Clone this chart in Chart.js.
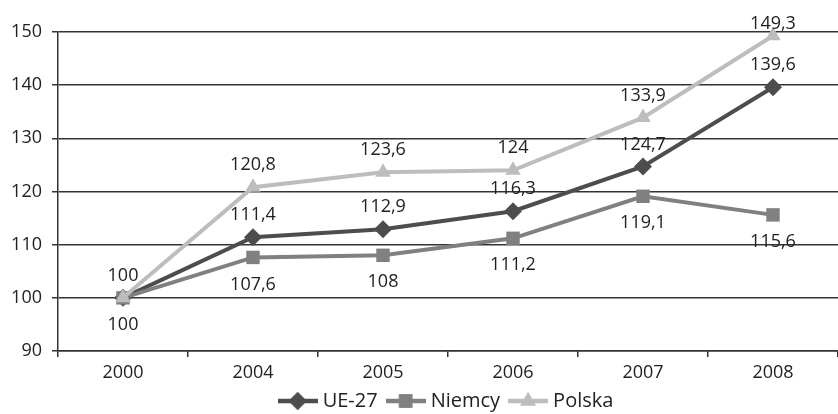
<!DOCTYPE html>
<html>
<head>
<meta charset="utf-8">
<script src="https://cdn.jsdelivr.net/npm/chart.js@4.4.1/dist/chart.umd.min.js"></script>
<style>
html,body{margin:0;padding:0;background:#fff;overflow:hidden;}
#wrap{width:838px;height:414px;position:relative;}
</style>
</head>
<body>
<div id="wrap"><canvas id="c"></canvas></div>
<script>
const categories = ['2000', '2004', '2005', '2006', '2007', '2008'];
const ue27 = [100, 111.4, 112.9, 116.3, 124.7, 139.6];
const niemcy = [100, 107.6, 108, 111.2, 119.1, 115.6];
const polska = [100, 120.8, 123.6, 124, 133.9, 149.3];
const seriesNames = ['UE-27', 'Niemcy', 'Polska'];
const yTicks = [90, 100, 110, 120, 130, 140, 150];

const FONT = '"Open Sans", "Noto Sans", sans-serif';
const FS = 18;
const LFS = 20;
const colors = ['#4d4d4d', '#808080', '#bdbdbd'];
const styles = ['rectRot', 'rect', 'triangle'];
const radii = [9, 9.5, 9];
const labelPos = ['above', 'below', 'above'];
const skipFirst = [false, false, true];

function legendIcon(color, style, r) {
  const cv = document.createElement('canvas');
  cv.width = 40; cv.height = 22;
  const ctx = cv.getContext('2d');
  ctx.strokeStyle = color; ctx.lineWidth = 4.5;
  ctx.beginPath(); ctx.moveTo(0, 11); ctx.lineTo(40, 11); ctx.stroke();
  ctx.fillStyle = color;
  Chart.helpers.drawPoint(ctx, {pointStyle: style, radius: r, borderWidth: 0}, 20, 11);
  ctx.fill();
  return cv;
}

const labelPlugin = {
  id: 'valueLabels',
  afterLayout(chart) {
    if (chart.legend) {
      chart.legend.top -= 6;
      chart.legend.bottom -= 6;
    }
  },
  afterDatasetsDraw(chart) {
    const ctx = chart.ctx;
    ctx.save();
    ctx.font = FS + 'px ' + FONT;
    ctx.fillStyle = '#222';
    ctx.textAlign = 'center';
    ctx.textBaseline = 'middle';
    chart.data.datasets.forEach((ds, i) => {
      const meta = chart.getDatasetMeta(i);
      meta.data.forEach((pt, j) => {
        if (skipFirst[i] && j === 0) return;
        const v = ds.data[j];
        const txt = String(v).replace('.', ',');
        const dy = labelPos[i] === 'above' ? -22 : 27;
        const y = Math.max(pt.y + dy, 24);
        ctx.fillText(txt, pt.x, y);
      });
    });
    ctx.restore();
  }
};

const seriesData = [ue27, niemcy, polska];
const datasets = seriesData.map((d, i) => ({
  label: seriesNames[i],
  data: d,
  borderColor: colors[i],
  backgroundColor: colors[i],
  borderWidth: 4,
  pointStyle: styles[i],
  pointRadius: radii[i],
  pointHoverRadius: radii[i],
  pointBorderWidth: 0,
  pointBackgroundColor: colors[i],
  tension: 0,
  clip: false,
  order: 3 - i
}));

new Chart(document.getElementById('c'), {
  type: 'line',
  data: { labels: categories, datasets: datasets },
  options: {
    responsive: true,
    maintainAspectRatio: false,
    animation: false,
    layout: { autoPadding: false, padding: { top: 32, right: 0, left: 0, bottom: -13 } },
    plugins: {
      tooltip: { enabled: false },
      legend: {
        position: 'bottom',
        fullSize: false,
        labels: {
          color: '#222',
          font: { family: FONT, size: LFS },
          usePointStyle: true,
          pointStyleWidth: 30,
          boxHeight: LFS,
          padding: 13,
          generateLabels(chart) {
            return chart.data.datasets.map((ds, i) => ({
              text: ds.label,
              pointStyle: legendIcon(colors[i], styles[i], radii[i]),
              fillStyle: colors[i],
              strokeStyle: colors[i],
              lineWidth: 0,
              hidden: false,
              datasetIndex: i,
              fontColor: '#222'
            }));
          }
        }
      }
    },
    scales: {
      x: {
        offset: true,
        grid: {
          offset: true,
          drawOnChartArea: false,
          drawTicks: true,
          tickLength: 6,
          color: '#333',
          lineWidth: 1.5
        },
        border: { display: true, color: '#333', width: 1.5 },
        ticks: { color: '#222', font: { family: FONT, size: FS }, padding: 5 },
        afterFit(scale) { scale.height = 33; scale.paddingLeft = 0; scale.paddingRight = 0; }
      },
      y: {
        min: 90,
        max: 150,
        afterBuildTicks(scale) { scale.ticks = yTicks.map(v => ({ value: v })); },
        grid: { color: '#333', lineWidth: 1.5, tickLength: 6, drawTicks: true },
        border: { display: true, color: '#333', width: 1.5 },
        ticks: { color: '#222', font: { family: FONT, size: FS }, padding: 10 },
        afterFit(scale) { scale.width = 58; scale.paddingTop = 0; scale.paddingBottom = 0; }
      }
    }
  },
  plugins: [labelPlugin]
});
</script>
</body>
</html>
